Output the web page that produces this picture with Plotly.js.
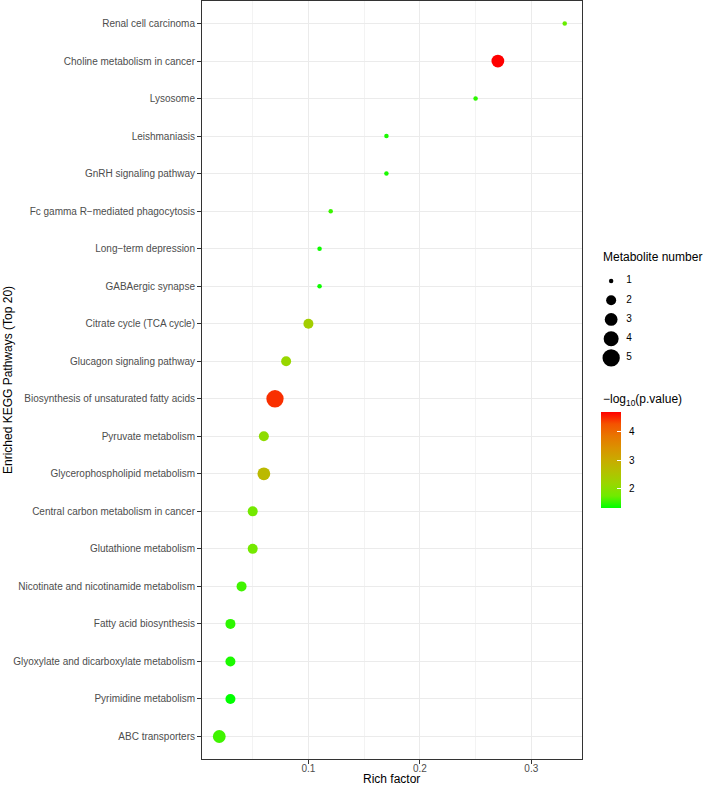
<!DOCTYPE html>
<html>
<head>
<meta charset="utf-8">
<script src="https://cdn.plot.ly/plotly-3.0.1.min.js"></script>
<style>
  html, body { margin: 0; padding: 0; background: #fff; }
  #chart { width: 703px; height: 786px; }
</style>
</head>
<body>
<div id="chart"></div>
<script>
// pathways listed top to bottom as in the figure
const pathways = [
    "Renal cell carcinoma",
    "Choline metabolism in cancer",
    "Lysosome",
    "Leishmaniasis",
    "GnRH signaling pathway",
    "Fc gamma R\u2212mediated phagocytosis",
    "Long\u2212term depression",
    "GABAergic synapse",
    "Citrate cycle (TCA cycle)",
    "Glucagon signaling pathway",
    "Biosynthesis of unsaturated fatty acids",
    "Pyruvate metabolism",
    "Glycerophospholipid metabolism",
    "Central carbon metabolism in cancer",
    "Glutathione metabolism",
    "Nicotinate and nicotinamide metabolism",
    "Fatty acid biosynthesis",
    "Glyoxylate and dicarboxylate metabolism",
    "Pyrimidine metabolism",
    "ABC transporters"
];
const richFactor = [0.33, 0.27, 0.25, 0.17, 0.17, 0.12, 0.11, 0.11, 0.10, 0.08,
                    0.07, 0.06, 0.06, 0.05, 0.05, 0.04, 0.03, 0.03, 0.03, 0.02];
const metaboliteNumber = [1, 3, 1, 1, 1, 1, 1, 1, 2, 2,
                          5, 2, 3, 2, 2, 2, 2, 2, 2, 3];
const negLogP = [1.72, 4.71, 1.50, 1.43, 1.43, 1.55, 1.38, 1.38, 2.34, 2.18,
                 4.47, 2.07, 2.75, 1.80, 1.80, 1.57, 1.50, 1.43, 1.33, 1.57];

const sizeLevels = [1, 2, 3, 4, 5];
const colorTicks = [2, 3, 4];

// point diameter (px) for each metabolite count
const diam = {1: 4.5, 2: 10, 3: 12.8, 4: 15, 5: 17.3};

// green -> red, interpolated in Lab like ggplot's scale_colour_gradient
const greenRed = [
    [0, "#00FF00"], [0.125, "#70EB00"], [0.25, "#98D700"], [0.375, "#B3C100"],
    [0.5, "#C9AB00"], [0.625, "#DA9200"], [0.75, "#E87600"], [0.875, "#F45300"],
    [1, "#FF0000"]
];

const font = "Liberation Sans, Arial, Helvetica, sans-serif";

const dots = {
    x: richFactor,
    y: pathways,
    type: "scatter",
    mode: "markers",
    showlegend: false,
    hoverinfo: "x+y",
    marker: {
        size: metaboliteNumber.map(n => diam[n]),
        color: negLogP,
        colorscale: greenRed,
        opacity: 1,
        line: {width: 0},
        colorbar: {
            x: 0.7964, xanchor: "left", xpad: 0,
            y: 0.395, yanchor: "middle", ypad: 0,
            len: 96, lenmode: "pixels",
            thickness: 20,
            outlinewidth: 0,
            ticks: "inside", ticklen: 4, tickcolor: "white", tickwidth: 1,
            tickvals: colorTicks,
            ticktext: colorTicks.map(v => "\u00a0\u00a0" + v),
            tickfont: {family: font, size: 10, color: "#000"}
        }
    }
};

// size key, drawn on its own small axes to the right of the panel
const sizeKey = {
    x: sizeLevels.map(() => 0),
    y: sizeLevels,
    xaxis: "x2",
    yaxis: "y2",
    type: "scatter",
    mode: "markers",
    showlegend: false,
    hoverinfo: "skip",
    marker: {size: sizeLevels.map(n => diam[n]), color: "black", opacity: 1, line: {width: 0}}
};
const sizeKeyText = {
    x: sizeLevels.map(() => 0.97),
    y: sizeLevels,
    text: sizeLevels.map(String),
    xaxis: "x2",
    yaxis: "y2",
    type: "scatter",
    mode: "text",
    textposition: "middle center",
    textfont: {family: font, size: 10, color: "#000"},
    showlegend: false,
    hoverinfo: "skip"
};

const hidden = {visible: false, showgrid: false, zeroline: false, fixedrange: true};

const layout = {
    width: 703,
    height: 786,
    margin: {l: 202, r: 0, t: 1, b: 27},
    paper_bgcolor: "white",
    plot_bgcolor: "white",
    font: {family: font, color: "#000"},
    showlegend: false,
    xaxis: {
        domain: [0, 0.75848],
        range: [0.0045, 0.3455],
        tick0: 0, dtick: 0.1,
        tickformat: ".1f",
        ticks: "outside", ticklen: 4, tickcolor: "#333333", tickwidth: 1,
        ticklabelstandoff: -4,
        tickfont: {family: font, size: 10, color: "#4D4D4D"},
        showgrid: true, gridcolor: "#EBEBEB", gridwidth: 1,
        minor: {dtick: 0.05, showgrid: true, gridcolor: "#F3F3F3", gridwidth: 1},
        showline: true, linecolor: "#333333", linewidth: 1, mirror: true,
        zeroline: false,
        fixedrange: true
    },
    yaxis: {
        type: "category",
        range: [19.6, -0.6],
        ticks: "outside", ticklen: 4, tickcolor: "#333333", tickwidth: 1,
        tickfont: {family: font, size: 10, color: "#4D4D4D"},
        showgrid: true, gridcolor: "#EBEBEB", gridwidth: 1,
        showline: true, linecolor: "#333333", linewidth: 1, mirror: true,
        zeroline: false,
        fixedrange: true
    },
    xaxis2: Object.assign({domain: [0.78, 1], range: [-1, 5], anchor: "y2"}, hidden),
    yaxis2: Object.assign({domain: [0.504, 0.6557], range: [5.987, 0.013], anchor: "x2"}, hidden),
    annotations: [
        {
            text: "Rich factor",
            xref: "paper", yref: "paper",
            x: 0.3792, y: -0.027, xanchor: "center", yanchor: "middle",
            showarrow: false, borderpad: 0,
            font: {family: font, size: 12, color: "#000"}
        },
        {
            text: "Enriched KEGG Pathways (Top 20)",
            xref: "paper", yref: "paper",
            x: -0.3872, y: 0.5, xanchor: "center", yanchor: "middle",
            textangle: -90,
            showarrow: false,
            font: {family: font, size: 12, color: "#000"}
        },
        {
            text: "Metabolite number",
            xref: "paper", yref: "paper",
            x: 0.7964, y: 0.6623, xanchor: "left", yanchor: "middle",
            showarrow: false,
            font: {family: font, size: 12, color: "#000"}
        },
        {
            text: "\u2212log<sub>10</sub>(p.value)",
            xref: "paper", yref: "paper",
            x: 0.7964, y: 0.474, xanchor: "left", yanchor: "middle",
            showarrow: false,
            font: {family: font, size: 12, color: "#000"}
        }
    ]
};

Plotly.newPlot("chart", [dots, sizeKey, sizeKeyText], layout, {displayModeBar: false, responsive: false});
</script>
</body>
</html>
